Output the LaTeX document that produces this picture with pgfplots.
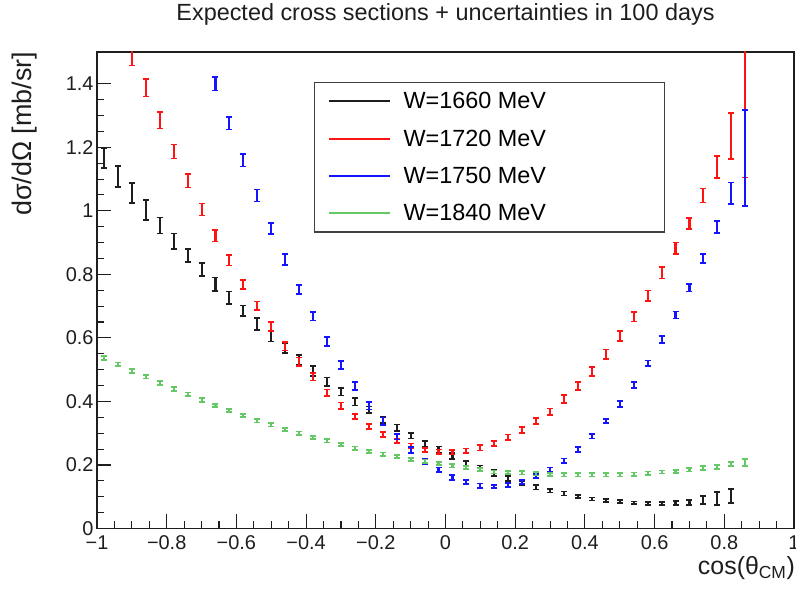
\documentclass[border=0pt]{standalone}
\usepackage{fontspec}
\setmainfont{Liberation Sans}
\usepackage{pgfplots}
\usepackage{pgfplotstable}
\pgfplotsset{compat=1.18}
\definecolor{rootgreen}{RGB}{100,200,100}
\definecolor{rootred}{RGB}{255,20,20}
\definecolor{rootblue}{RGB}{20,20,255}
\definecolor{rootblack}{RGB}{30,30,30}

\pgfplotstableread{
x y e
-0.98 1.165 0.031
-0.94 1.109 0.033
-0.90 1.056 0.032
-0.86 1.003 0.032
-0.82 0.954 0.025
-0.78 0.904 0.025
-0.74 0.859 0.021
-0.70 0.815 0.021
-0.66 0.769 0.021
-0.62 0.726 0.020
-0.58 0.685 0.017
-0.54 0.643 0.019
-0.50 0.605 0.016
-0.46 0.568 0.016
-0.42 0.531 0.016
-0.38 0.496 0.015
-0.34 0.462 0.013
-0.30 0.431 0.012
-0.26 0.399 0.012
-0.22 0.374 0.010
-0.18 0.342 0.011
-0.14 0.317 0.010
-0.10 0.292 0.009
-0.06 0.266 0.009
-0.02 0.248 0.010
0.02 0.228 0.010
0.06 0.205 0.008
0.10 0.189 0.009
0.14 0.175 0.009
0.18 0.158 0.008
0.22 0.143 0.007
0.26 0.130 0.007
0.30 0.119 0.006
0.34 0.110 0.006
0.38 0.100 0.005
0.42 0.093 0.005
0.46 0.088 0.004
0.50 0.085 0.004
0.54 0.081 0.004
0.58 0.079 0.004
0.62 0.079 0.005
0.66 0.080 0.006
0.70 0.082 0.007
0.74 0.090 0.013
0.78 0.094 0.020
0.82 0.102 0.022
}\blackdata

\pgfplotstableread{
x y e
-0.90 1.485 0.028
-0.86 1.388 0.028
-0.82 1.285 0.026
-0.78 1.187 0.022
-0.74 1.094 0.021
-0.70 1.004 0.019
-0.66 0.921 0.018
-0.62 0.844 0.016
-0.58 0.768 0.015
-0.54 0.701 0.014
-0.50 0.635 0.014
-0.46 0.573 0.013
-0.42 0.525 0.013
-0.38 0.478 0.012
-0.34 0.428 0.010
-0.30 0.387 0.010
-0.26 0.353 0.008
-0.22 0.321 0.008
-0.18 0.296 0.008
-0.14 0.276 0.007
-0.10 0.261 0.007
-0.06 0.247 0.007
-0.02 0.242 0.007
0.02 0.240 0.007
0.06 0.245 0.007
0.10 0.254 0.008
0.14 0.267 0.008
0.18 0.287 0.009
0.22 0.310 0.009
0.26 0.338 0.010
0.30 0.368 0.010
0.34 0.407 0.013
0.38 0.449 0.012
0.42 0.495 0.014
0.46 0.548 0.015
0.50 0.606 0.015
0.54 0.667 0.015
0.58 0.733 0.016
0.62 0.805 0.018
0.66 0.882 0.018
0.70 0.960 0.018
0.74 1.048 0.022
0.78 1.138 0.034
0.82 1.235 0.072
0.86 1.360 0.255
}\reddata

\pgfplotstableread{
x y e
-0.66 1.400 0.021
-0.62 1.276 0.020
-0.58 1.159 0.019
-0.54 1.048 0.019
-0.50 0.944 0.017
-0.46 0.847 0.017
-0.42 0.753 0.014
-0.38 0.668 0.013
-0.34 0.588 0.014
-0.30 0.515 0.012
-0.26 0.449 0.012
-0.22 0.387 0.012
-0.18 0.337 0.012
-0.14 0.289 0.009
-0.10 0.247 0.009
-0.06 0.211 0.007
-0.02 0.185 0.007
0.02 0.161 0.008
0.06 0.146 0.006
0.10 0.135 0.007
0.14 0.133 0.005
0.18 0.137 0.006
0.22 0.147 0.006
0.26 0.165 0.007
0.30 0.185 0.007
0.34 0.213 0.007
0.38 0.248 0.008
0.42 0.290 0.007
0.46 0.338 0.007
0.50 0.392 0.009
0.54 0.452 0.009
0.58 0.520 0.009
0.62 0.595 0.010
0.66 0.672 0.011
0.70 0.758 0.012
0.74 0.850 0.014
0.78 0.950 0.019
0.82 1.055 0.034
0.86 1.167 0.151
}\bluedata

\pgfplotstableread{
x y e
-0.98 0.537 0.007
-0.94 0.517 0.006
-0.90 0.496 0.006
-0.86 0.478 0.006
-0.82 0.458 0.006
-0.78 0.439 0.006
-0.74 0.422 0.006
-0.70 0.404 0.006
-0.66 0.388 0.005
-0.62 0.372 0.005
-0.58 0.355 0.005
-0.54 0.339 0.005
-0.50 0.326 0.005
-0.46 0.312 0.005
-0.42 0.300 0.005
-0.38 0.287 0.005
-0.34 0.276 0.005
-0.30 0.264 0.005
-0.26 0.253 0.005
-0.22 0.243 0.005
-0.18 0.234 0.005
-0.14 0.226 0.005
-0.10 0.218 0.005
-0.06 0.212 0.005
-0.02 0.204 0.005
0.02 0.197 0.005
0.06 0.192 0.005
0.10 0.185 0.005
0.14 0.178 0.005
0.18 0.176 0.005
0.22 0.175 0.005
0.26 0.172 0.005
0.30 0.170 0.005
0.34 0.169 0.005
0.38 0.169 0.005
0.42 0.169 0.005
0.46 0.169 0.005
0.50 0.169 0.005
0.54 0.171 0.005
0.58 0.174 0.005
0.62 0.178 0.005
0.66 0.180 0.005
0.70 0.185 0.006
0.74 0.190 0.006
0.78 0.194 0.006
0.82 0.203 0.007
0.86 0.208 0.011
}\greendata

\newcommand\tickfont{\fontsize{20}{24}\selectfont}
\newcommand\legfont{\fontsize{23.5}{28}\selectfont}

\pgfplotsset{
  rooterr/.style={color=#1, only marks, mark=text, text mark={}, forget plot,
    error bars/.cd, y dir=both, y explicit,
    error bar style={line width=2.1bp},
    error mark=-,
    error mark options={rotate=90, mark size=3bp, line width=1.7bp}},
}

\begin{document}
\begin{tikzpicture}[x=1bp,y=1bp]
\useasboundingbox (-97,-63.5) rectangle (699,528.5);
\begin{axis}[
  at={(0,0)}, anchor=south west,
  scale only axis, width=697bp, height=476.5bp,
  xmin=-1, xmax=1, ymin=0, ymax=1.5,
  axis line style={line width=1.3bp, rootblack},
  xtick={-1,-0.8,-0.6,-0.4,-0.2,0,0.2,0.4,0.6,0.8,1},
  xticklabels={−1,−0.8,−0.6,−0.4,−0.2,0,0.2,0.4,0.6,0.8,1},
  ytick={0,0.2,0.4,0.6,0.8,1,1.2,1.4},
  yticklabels={0,0.2,0.4,0.6,0.8,1,1.2,1.4},
  minor x tick num=3, minor y tick num=3,
  tick align=inside, major tick length=14bp, minor tick length=7bp,
  xtick pos=bottom, ytick pos=left,
  tick style={line width=1.1bp, rootblack},
  ticklabel style={font=\tickfont, text=rootblack},
  xticklabel style={yshift=-4bp},
  legend style={
    at={(rel axis cs:0.3118,0.9364)}, anchor=north west,
    draw=black!75, line width=1.1bp, fill=white,
    inner xsep=13bp, inner ysep=0bp,
    font=\legfont,
    nodes={inner sep=0pt, minimum height=37.3bp, anchor=west},
    /tikz/every odd column/.append style={column sep=12.7bp},
  },
  legend cell align=left,
  legend image code/.code={\draw[#1, line width=2bp] (0bp,0bp) -- (61bp,0bp);},
]
\addlegendimage{rootblack}
\addlegendentry{\makebox[248bp][l]{W=1660 MeV}}
\addlegendimage{rootred}
\addlegendentry{\makebox[248bp][l]{W=1720 MeV}}
\addlegendimage{rootblue}
\addlegendentry{\makebox[248bp][l]{W=1750 MeV}}
\addlegendimage{rootgreen}
\addlegendentry{\makebox[248bp][l]{W=1840 MeV}}

\addplot[rooterr=rootblack] table[x=x, y=y, y error=e] {\blackdata};
\addplot[rooterr=rootred] table[x=x, y=y, y error=e] {\reddata};
\addplot[rooterr=rootblue] table[x=x, y=y, y error=e] {\bluedata};
\addplot[rooterr=rootgreen] table[x=x, y=y, y error=e] {\greendata};
\end{axis}
\node[anchor=center, text=rootblack, font=\fontsize{23.5}{28}\selectfont] at (348.5,514.5) {Expected cross sections + uncertainties in 100 days};
\node[rotate=90, anchor=east, text=rootblack, font=\fontsize{27}{32}\selectfont] at (-72,480) {dσ/dΩ [mb/sr]};
\node[anchor=base east, text=rootblack, font=\fontsize{25}{30}\selectfont, inner sep=0pt] at (698,-46.5) {cos(θ\textsubscript{CM})};
\end{tikzpicture}
\end{document}
